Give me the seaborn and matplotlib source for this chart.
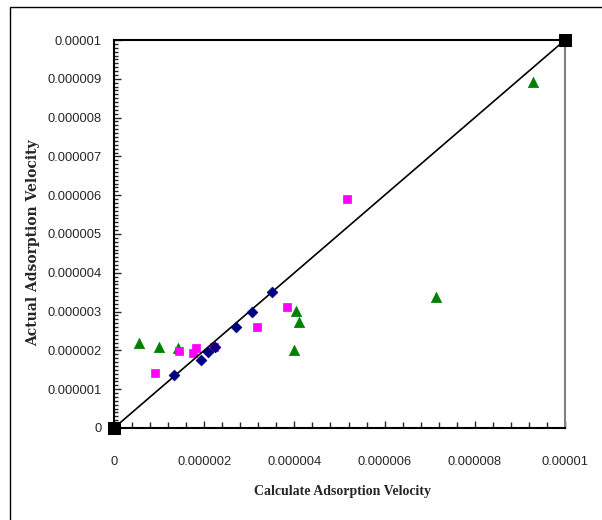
import matplotlib
matplotlib.use("Agg")
import matplotlib.pyplot as plt
import seaborn as sns
import pandas as pd
from matplotlib.ticker import MultipleLocator
from matplotlib.patches import Rectangle

# Data
diamond_x = [1.33e-6, 1.92e-6, 2.09e-6, 2.24e-6, 2.71e-6, 3.05e-6, 3.51e-6]
diamond_y = [1.37e-6, 1.75e-6, 1.97e-6, 2.08e-6, 2.60e-6, 2.98e-6, 3.51e-6]
square_x = [0.91e-6, 1.44e-6, 1.745e-6, 1.81e-6, 2.22e-6, 3.16e-6, 3.84e-6, 5.17e-6]
square_y = [1.41e-6, 1.99e-6, 1.925e-6, 2.05e-6, 2.08e-6, 2.60e-6, 3.11e-6, 5.90e-6]
tri_x = [0.56e-6, 1.00e-6, 1.43e-6, 4.03e-6, 4.11e-6, 4.00e-6, 7.14e-6, 9.30e-6]
tri_y = [2.20e-6, 2.08e-6, 2.07e-6, 3.02e-6, 2.74e-6, 2.00e-6, 3.38e-6, 8.93e-6]
line_x = [0.0, 1e-5]
line_y = [0.0, 1e-5]
x_ticks = [0, 2e-6, 4e-6, 6e-6, 8e-6, 1e-5]
x_tick_labels = ["0", "0.000002", "0.000004", "0.000006", "0.000008", "0.00001"]
y_ticks = [0, 1e-6, 2e-6, 3e-6, 4e-6, 5e-6, 6e-6, 7e-6, 8e-6, 9e-6, 1e-5]
y_tick_labels = ["0", "0.000001", "0.000002", "0.000003", "0.000004", "0.000005",
                 "0.000006", "0.000007", "0.000008", "0.000009", "0.00001"]

sns.set_style("white")
plt.rcParams["font.family"] = ["Liberation Sans", "DejaVu Sans"]

fig = plt.figure(figsize=(6.02, 5.2), dpi=100)
ax = fig.add_axes([114/602, 1-428/520, 451/602, 388/520])

# outer frame
fig.patches.append(Rectangle((10/602, -0.05), 1.2, 1 - 7/520 + 0.05, transform=fig.transFigure,
                             fill=False, edgecolor="black", linewidth=1.0, zorder=0))

sns.lineplot(x=line_x, y=line_y, ax=ax, color="black", linewidth=1.2,
             marker="s", markersize=9, markeredgecolor="black", markerfacecolor="black",
             clip_on=False, zorder=5)
sns.scatterplot(x=tri_x, y=tri_y, ax=ax, marker="^", s=55, color="#008000",
                edgecolor="#008000", linewidth=0.5, zorder=3)
sns.scatterplot(x=square_x, y=square_y, ax=ax, marker="s", s=38, color="#FF00FF",
                edgecolor="#FF00FF", linewidth=0.5, zorder=4)
sns.scatterplot(x=diamond_x, y=diamond_y, ax=ax, marker="D", s=30, color="#000080",
                edgecolor="#000080", linewidth=0.5, zorder=6)

ax.set_xlim(0, 1e-5)
ax.set_ylim(0, 1e-5)
ax.set_xticks(x_ticks)
ax.set_xticklabels(x_tick_labels)
ax.set_yticks(y_ticks)
ax.set_yticklabels(y_tick_labels)
ax.xaxis.set_minor_locator(MultipleLocator(4e-7))
ax.yaxis.set_minor_locator(MultipleLocator(1e-7))
ax.tick_params(axis="x", which="major", direction="in", length=5, width=1, pad=20,
               labelsize=9.3, bottom=True)
ax.tick_params(axis="x", which="minor", direction="in", length=4, width=1, bottom=True)
ax.tick_params(axis="y", which="major", direction="in", length=5, width=1, pad=9,
               labelsize=9.3, left=True)
ax.tick_params(axis="y", which="minor", direction="in", length=3, width=1, left=True)

for s in ["left", "bottom", "top"]:
    ax.spines[s].set_color("black")
    ax.spines[s].set_linewidth(1.5)
ax.spines["right"].set_color("#808080")
ax.spines["right"].set_linewidth(1.5)

ax.set_xlabel("Calculate Adsorption Velocity", fontfamily="Liberation Serif",
              fontweight="bold", fontsize=10)
ax.set_ylabel("Actual Adsorption Velocity", fontfamily="DejaVu Serif",
              fontweight="bold", fontsize=10)
ax.xaxis.set_label_coords(343/602, 1 - 492/520, transform=fig.transFigure)
ax.yaxis.set_label_coords(33/602, 1 - 243/520, transform=fig.transFigure)
ax.xaxis.label.set_va("center")
ax.yaxis.label.set_va("center")

fig.savefig("out.png", dpi=100)
